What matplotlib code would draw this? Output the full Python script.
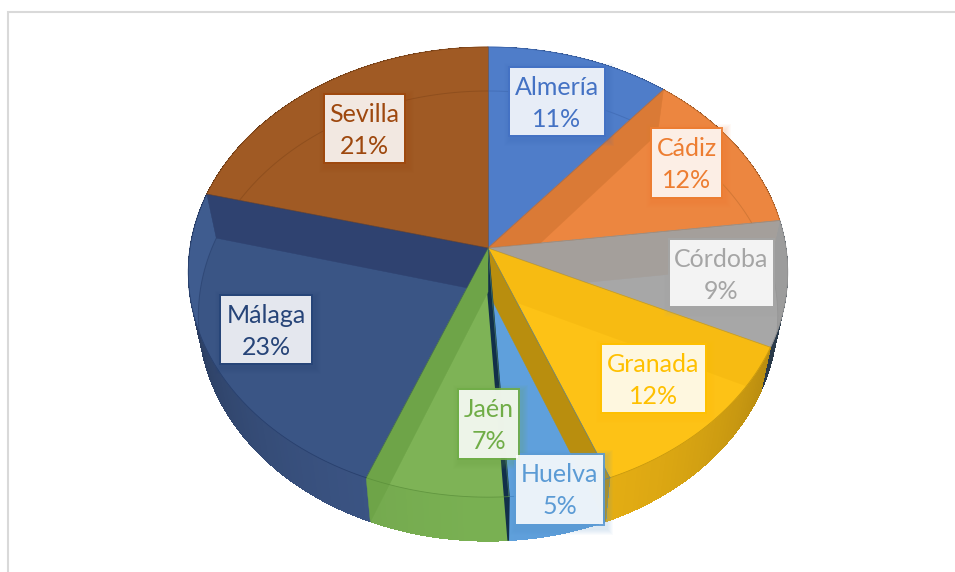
import numpy as np
import matplotlib
matplotlib.use("Agg")
import matplotlib.pyplot as plt
from matplotlib.patches import Rectangle

provinces = ["Almería", "Cádiz", "Córdoba", "Granada", "Huelva", "Jaén", "Málaga", "Sevilla"]
shares = [11, 12, 9, 12, 5, 7, 23, 21]

# label box: left, top, right, bottom in pixels
label_boxes = [(508, 66, 606, 137), (650, 127, 723, 199), (668, 238, 775, 308), (600, 343, 707, 414),
               (514, 453, 605, 526), (457, 388, 520, 460), (219, 294, 313, 365), (323, 93, 406, 164)]

text_colors = ["#4472C4", "#ED7D31", "#A5A5A5", "#FFC000", "#5B9BD5", "#70AD47", "#264478", "#9E480E"]
top_colors = ["#4F7DC9", "#EC8640", "#A7A7A7", "#FDC216", "#5FA0DC", "#7EB356", "#3A5585", "#A05A24"]
wall_colors = ["#3F68AE", "#C96F30", "#2A3A4A", "#EDB414", "#5FA0DC", "#79B052", "#3D5788", "#8A4E20"]
arc_colors = ["#3A62A8", "#B96A2E", "#8E8E8E", "#B98E0E", "#3F7FBC", "#5A8F3A", "#243A66", "#7E4418"]
# darker wall band seen at each slice boundary: colour, slice it is clipped to
cut_colors = ["#DA7A36", "#A49F9B", "#F7BB12", "#B98E0E", "#12304A", "#6EA448", "#2F4270"]
cut_clips = [1, 2, 3, None, None, None, 6]
rim_colors = {2: "#9C9C9C", 6: "#3F5C8F"}

# pie geometry in pixels, the pie is drawn with a perspective tilt
CX = 488
TOP_Y = 248
DEPTH = 44
RX_TOP = 298
RX_BOTTOM = 288
RY = 222.5
K = 0.107


def project(theta, rx, apex_y):
    t = np.radians(theta)
    u, v = np.sin(t), np.cos(t)
    d = 1 + K * v
    return CX + rx * u / d, apex_y - RY * v / d


def top_pt(theta):
    return project(theta, RX_TOP, TOP_Y)


def bottom_pt(theta):
    return project(theta, RX_BOTTOM, TOP_Y + DEPTH)


def shaded(color, f):
    rgb = np.array(matplotlib.colors.to_rgb(color))
    return tuple(rgb * f)


edges = np.concatenate([[0], np.cumsum(shares) / np.sum(shares) * 360])

fig = plt.figure(figsize=(9.55, 5.72), dpi=100)
ax = fig.add_axes([0, 0, 1, 1])
ax.set_xlim(0, 955)
ax.set_ylim(572, 0)
ax.axis("off")

# chart frame
ax.plot([8, 8, 955], [572, 12, 12], color="#D9D9D9", lw=1.5, zorder=1, solid_joinstyle="miter")

# outer walls, split into thin strips to get the shading
for i in range(len(shares)):
    steps = np.arange(edges[i], edges[i + 1], 1.0)
    steps = np.append(steps, edges[i + 1])
    for a, b in zip(steps[:-1], steps[1:]):
        mid = (a + b) / 2
        f = 1 - 0.48 * min(abs(mid - 180) / 105, 1) ** 1.6
        if i == 2:
            f = 1
        xt, yt = top_pt(np.array([a, b]))
        xb, yb = bottom_pt(np.array([b, a]))
        c = shaded(wall_colors[i], f)
        ax.fill(np.r_[xt, xb], np.r_[yt, yb], facecolor=c, edgecolor="none", antialiased=False, zorder=2)

# top faces
wedges = []
for i in range(len(shares)):
    th = np.linspace(edges[i], edges[i + 1], 80)
    x, y = top_pt(th)
    poly = ax.fill(np.r_[CX, x], np.r_[TOP_Y, y], facecolor=top_colors[i],
                   edgecolor=top_colors[i], lw=0.5, zorder=3)[0]
    wedges.append(poly)

# rim seen beyond the lower ellipse
for i, c in rim_colors.items():
    th = np.linspace(edges[i], edges[i + 1], 80)
    xt, yt = top_pt(th)
    xb, yb = bottom_pt(th[::-1])
    p = ax.fill(np.r_[xt, xb], np.r_[yt, yb], color=c, lw=0, zorder=4)[0]
    p.set_clip_path(wedges[i])

# back edge of the lower ellipse showing through the top
for i in range(len(shares)):
    th = np.linspace(edges[i], edges[i + 1], 80)
    x, y = bottom_pt(th)
    line = ax.plot(x, y, color=arc_colors[i], lw=0.7, alpha=0.5, zorder=4)[0]
    line.set_clip_path(wedges[i])

# walls at the slice boundaries
for i, (c, clip) in enumerate(zip(cut_colors, cut_clips)):
    th = edges[i + 1]
    xt, yt = top_pt(th)
    xb, yb = bottom_pt(th)
    p = ax.fill([CX, xt, xb, CX], [TOP_Y, yt, yb, TOP_Y + DEPTH], facecolor=c,
                edgecolor=c, lw=1.2 if clip is None and i == 4 else 0.3, zorder=5)[0]
    if clip is not None:
        p.set_clip_path(wedges[clip])

# slice outlines
for i in range(len(shares)):
    th = np.linspace(edges[i], edges[i + 1], 80)
    x, y = top_pt(th)
    ax.plot(x, y, color=arc_colors[i], lw=0.6, alpha=0.8, zorder=6)
    ax.plot([CX, x[0]], [TOP_Y, y[0]], color=arc_colors[i], lw=0.5, alpha=0.5, zorder=6)
    ax.plot([CX, x[-1]], [TOP_Y, y[-1]], color=arc_colors[i], lw=0.5, alpha=0.5, zorder=6)

# data labels with soft shadow
for name, share, box, col in zip(provinces, shares, label_boxes, text_colors):
    l, t, r, b = box
    for grow in range(1, 7):
        ax.add_patch(Rectangle((l - grow + 2, t - grow + 3), r - l + 2 * grow, b - t + 2 * grow,
                               facecolor=col, edgecolor="none", alpha=0.035, zorder=7))
    ax.add_patch(Rectangle((l, t), r - l, b - t, facecolor=col, edgecolor="none", zorder=8, alpha=0.9))
    ax.add_patch(Rectangle((l + 2, t + 2), r - l - 4, b - t - 4, facecolor="white", edgecolor="none",
                           alpha=0.88, zorder=9))
    mid = (l + r) / 2
    ax.text(mid, t + 29, name, color=col, fontsize=18, family="Lato", ha="center", va="baseline", zorder=10)
    ax.text(mid, t + 61, f"{share}%", color=col, fontsize=18, family="Lato", ha="center", va="baseline", zorder=10)

fig.savefig("out.png", dpi=100, facecolor="white")
